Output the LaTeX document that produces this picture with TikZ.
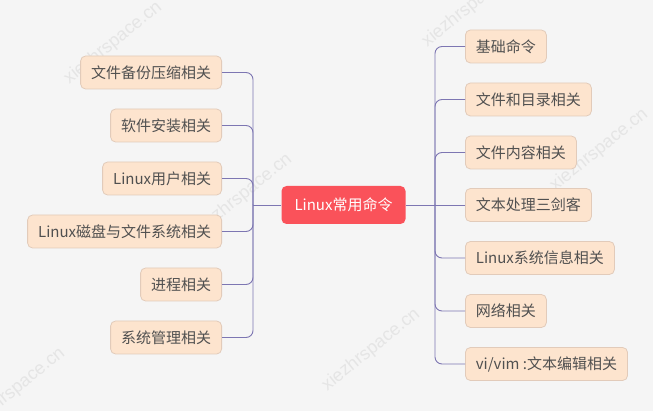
\documentclass[tikz,border=0pt]{standalone}
\usepackage{fontspec}
\setmainfont{Noto Sans CJK SC}
\newfontfamily\wmfont{Liberation Sans}
\usetikzlibrary{positioning}
\definecolor{bgcol}{RGB}{245,245,245}
\definecolor{rootred}{RGB}{250,82,90}
\definecolor{leaffill}{RGB}{253,228,206}
\definecolor{leafdraw}{RGB}{226,203,186}
\definecolor{leaftext}{RGB}{80,80,80}
\definecolor{linkcol}{RGB}{125,118,178}
\definecolor{wmcol}{RGB}{229,229,229}
\begin{document}
\begin{tikzpicture}[
  x=1pt, y=-1pt,
  font=\fontsize{15}{18}\selectfont,
  leaf/.style={draw=leafdraw, fill=leaffill, text=leaftext, rounded corners=5pt, minimum height=33pt, inner xsep=10.5pt, inner ysep=0pt, line width=0.8pt},
  rootbox/.style={fill=rootred, text=white, rounded corners=5pt, minimum height=38pt, inner xsep=13pt, inner ysep=0pt},
  link/.style={draw=linkcol, line width=0.9pt},
  branch/.style={link, rounded corners=7pt},
  wm/.style={font=\wmfont\fontsize{18}{20}\selectfont, text=wmcol, rotate=39}
]
\useasboundingbox (0,0) rectangle (653,411);
\fill[bgcol] (0,0) rectangle (653,411);
% ---------- watermarks ----------
\begin{scope}
\clip (0,0) rectangle (653,411);
\node[wm] (w1) at (113,43) {xiezhrspace.cn};
\node[wm] (w2) at (243,195) {xiezhrspace.cn};
\node[wm] (w3) at (471,6) {xiezhrspace.cn};
\node[wm] (w4) at (599,150) {xiezhrspace.cn};
\node[wm] (w5) at (371,350) {xiezhrspace.cn};
\node[wm] (w6) at (16,389) {xiezhrspace.cn};
\end{scope}
% ---------- centre ----------
\node[rootbox] (root) at (343.5,205) {Linux常用命令};
\coordinate (jl) at (253,205);
\coordinate (jr) at (435,205);
% ---------- left side ----------
\node[leaf, anchor=east] (l1) at (222,72.5) {文件备份压缩相关};
\node[leaf, anchor=east] (l2) at (222,125.5) {软件安装相关};
\node[leaf, anchor=east] (l3) at (222,178.5) {Linux用户相关};
\node[leaf, anchor=east] (l4) at (222,231.5) {Linux磁盘与文件系统相关};
\node[leaf, anchor=east] (l5) at (222,284.5) {进程相关};
\node[leaf, anchor=east] (l6) at (222,337.5) {系统管理相关};
% ---------- right side ----------
\node[leaf, anchor=west] (r1) at (465,46.5) {基础命令};
\node[leaf, anchor=west] (r2) at (465,99.5) {文件和目录相关};
\node[leaf, anchor=west] (r3) at (465,152.5) {文件内容相关};
\node[leaf, anchor=west] (r4) at (465,205) {文本处理三剑客};
\node[leaf, anchor=west] (r5) at (465,258) {Linux系统信息相关};
\node[leaf, anchor=west] (r6) at (465,311) {网络相关};
\node[leaf, anchor=west] (r7) at (465,364) {vi/vim :文本编辑相关};
% ---------- connectors ----------
\draw[link] (root.west) -- (jl);
\draw[link] (root.east) -- (jr);
\foreach \n in {l1,l2,l3,l4,l5,l6}
  \draw[branch] (jl) |- (\n.east);
\foreach \n in {r1,r2,r3,r5,r6,r7}
  \draw[branch] (jr) |- (\n.west);
\draw[link] (jr) -- (r4.west);
\end{tikzpicture}
\end{document}
